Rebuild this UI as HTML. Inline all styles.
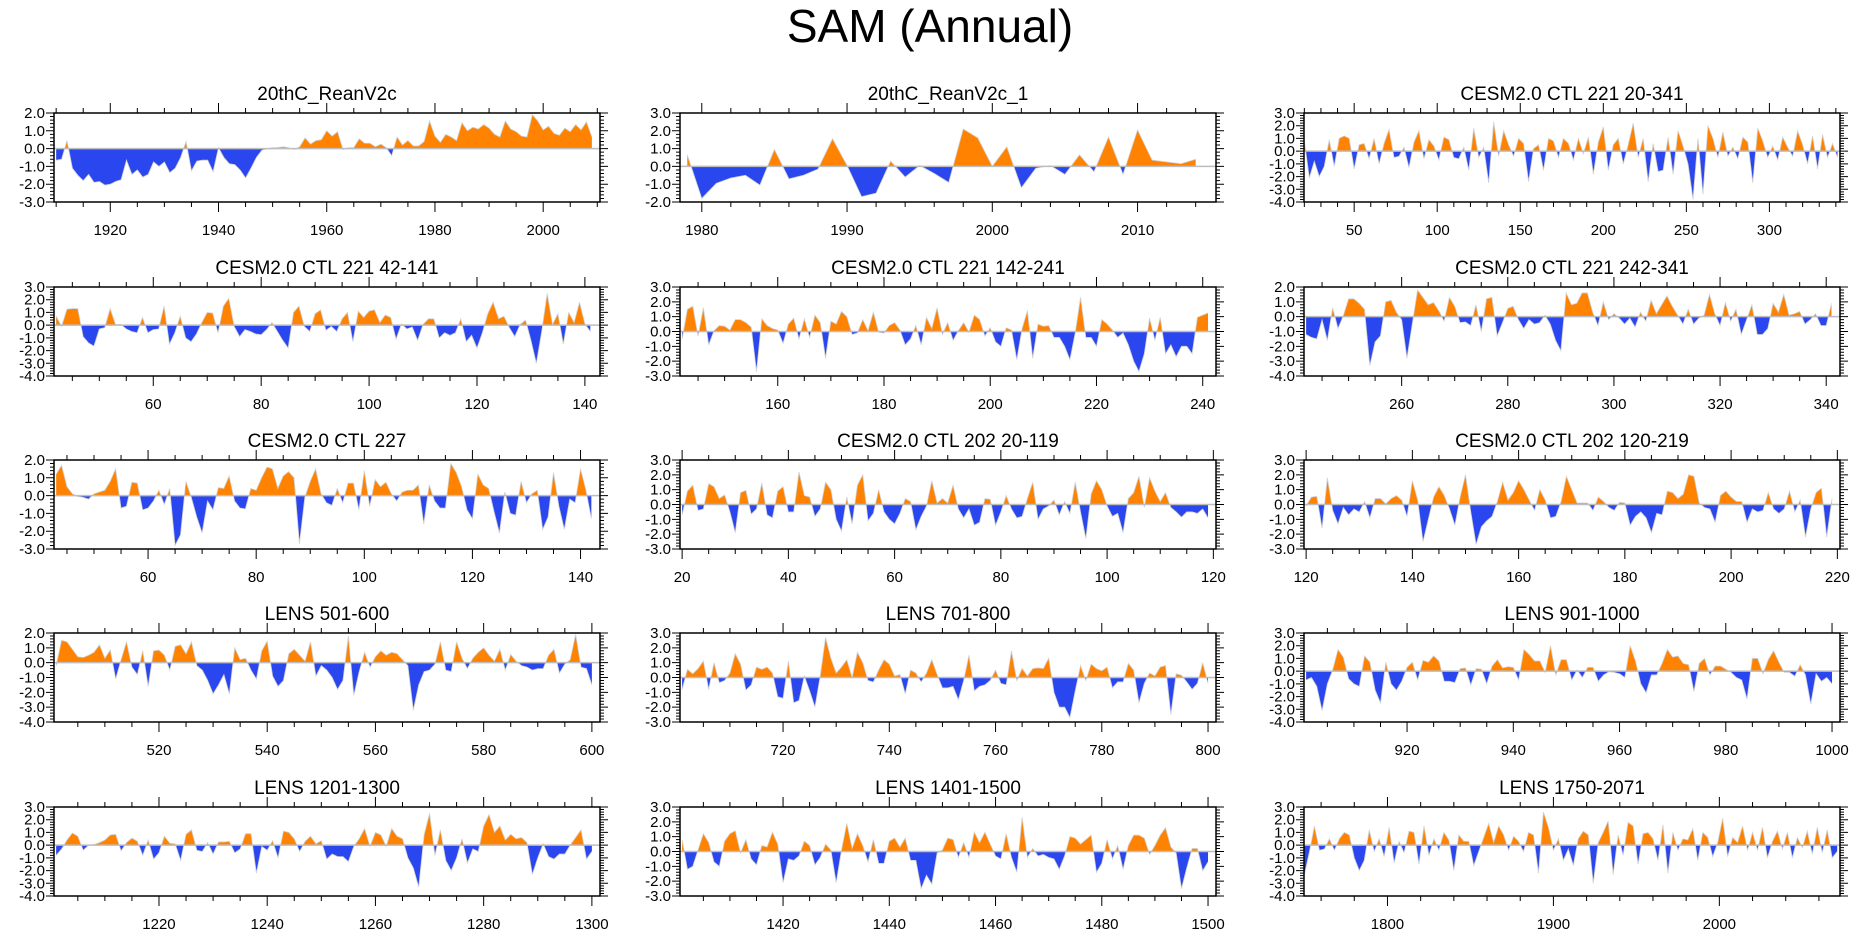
<!DOCTYPE html>
<html>
<head>
<meta charset="utf-8">
<style>
  html,body{margin:0;padding:0;background:#fff;}
  svg{display:block;font-family:"Liberation Sans",Arial,sans-serif;}
</style>
</head>
<body>
<svg id="chart" width="1861" height="936" viewBox="0 0 1861 936" xmlns="http://www.w3.org/2000/svg">
  <rect x="0" y="0" width="1861" height="936" fill="#fff"/>
  <text x="930" y="42" text-anchor="middle" font-size="46" fill="#000">SAM (Annual)</text>
</svg>
<script>
// ---------- data ----------
const titles = ["20thC_ReanV2c","20thC_ReanV2c_1","CESM2.0 CTL 221 20-341",
  "CESM2.0 CTL 221 42-141","CESM2.0 CTL 221 142-241","CESM2.0 CTL 221 242-341",
  "CESM2.0 CTL 227","CESM2.0 CTL 202 20-119","CESM2.0 CTL 202 120-219",
  "LENS 501-600","LENS 701-800","LENS 901-1000",
  "LENS 1201-1300","LENS 1401-1500","LENS 1750-2071"];
const startYears = [1910,1979,20, 42,142,242, 43,20,120, 501,701,901, 1201,1401,1750];
const yearSteps = [1,1,3, 1,1,1, 1,1,1, 1,1,1, 1,1,3];
const yMaxs = [2,3,3, 3,3,2, 2,3,3, 2,3,3, 3,3,3];
const yMins = [-3,-2,-4, -4,-3,-4, -3,-3,-3, -4,-3,-4, -4,-3,-4];
const xRangeLo = [1909.6,1978.5,19.8, 41.6,141.6,241.6, 42.6,19.6,119.6, 500.6,700.6,900.6, 1200.6,1400.6,1749.7];
const xRangeHi = [2010.5,2015.4,342.5, 142.8,242.5,342.6, 143.6,120.5,220.5, 601.5,801.5,1001.5, 1301.5,1501.5,2072.7];
const xMajorSteps = [20,10,50, 20,20,20, 20,20,20, 20,20,20, 20,20,100];
const xMinorSteps = [5,2,10, 5,5,5, 5,5,5, 5,5,5, 5,5,20];

const p1 = [-0.65,-0.6,0.45,-1.1,-1.5,-1.8,-1.45,-1.9,-1.85,-2.05,-2.0,-1.85,-1.75,-0.65,-1.45,-1.2,-1.6,-1.45,-0.75,-1.0,-0.75,-1.35,-1.1,-0.5,0.4,-1.25,-0.7,-0.65,-0.65,-1.3,0.05,-0.5,-0.85,-0.9,-1.2,-1.65,-1.1,-0.5,-0.1,0.0,0.05,0.06,0.1,0.05,-0.05,0.1,0.6,0.25,0.45,0.5,1.0,0.7,0.95,-0.05,0.05,0.05,0.55,0.3,0.3,0.1,0.25,0.05,-0.4,0.65,0.2,0.45,0.15,0.15,0.4,1.55,0.7,0.35,0.8,0.65,0.45,1.45,1.0,1.2,1.1,1.35,1.15,0.8,0.65,1.55,1.1,0.95,0.7,0.65,1.9,1.55,1.05,1.25,0.85,0.75,1.15,0.95,1.35,1.05,1.5,0.65];
const p2 = [0.65,-1.8,-0.95,-0.65,-0.5,-1.05,0.95,-0.7,-0.5,-0.15,1.55,0.05,-1.7,-1.5,0.3,-0.6,0.05,-0.4,-0.9,2.1,1.6,0.0,1.1,-1.2,-0.1,0.05,-0.45,0.65,-0.3,1.65,-0.45,2.05,0.35,0.25,0.15,0.4];
const p3 = [0.8,-2.1,-0.8,-2.0,-1.2,0.9,-1.2,1.0,1.2,1.0,-1.4,0.5,0.6,-0.6,1.0,-1.0,0.6,1.7,-0.5,-0.4,0.3,-1.3,0.7,1.6,-0.6,0.9,0.4,-0.7,1.1,0.9,-0.5,-0.6,0.3,-1.5,1.8,-0.5,0.3,-2.5,2.3,-0.4,1.6,0.5,-0.4,1.0,0.6,-2.4,0.2,0.5,-1.5,1.0,0.8,-0.5,1.0,0.6,-0.7,1.0,-0.2,1.1,-1.8,0.7,1.9,-1.5,0.5,1.0,-1.0,0.5,2.2,-0.5,1.0,-2.4,0.6,-1.6,-1.5,1.1,-1.8,1.6,0.4,-1.0,-3.8,1.0,-3.4,2.0,1.0,-0.5,1.5,-0.4,0.3,-0.6,1.1,0.7,-2.5,1.8,0.8,-0.5,0.4,-0.7,1.1,0.3,-0.4,1.6,0.5,-1.0,1.2,-1.4,1.3,-0.5,0.6,-0.5];
const p4 = [0.7,-0.1,1.25,1.3,1.3,-0.9,-1.4,-1.65,-0.3,-0.2,1.3,0.05,0.05,-0.3,-0.5,-0.6,0.6,-0.6,-0.35,-0.3,1.5,-1.5,-0.6,0.7,-1.0,-1.3,-0.7,0.2,1.0,0.95,-0.6,1.5,2.1,-0.1,-0.9,-0.35,-0.5,-0.7,-0.75,-0.35,0.2,-0.5,-1.2,-1.8,1.0,1.5,-0.1,-0.5,0.9,1.2,-0.4,-0.1,-0.5,0.5,1.0,-1.3,1.1,0.6,1.1,1.2,0.2,0.8,0.6,-1.1,0.1,-0.3,-0.15,-1.2,0.05,0.5,0.5,-1.0,-0.6,-0.8,-0.6,0.5,-1.3,-0.8,-1.8,-0.6,0.9,1.8,0.5,0.7,-0.2,-0.9,0.05,0.4,-1.2,-3.0,-0.5,2.5,0.05,0.9,-1.5,1.0,0.2,1.8,0.1,-0.5];
const p5 = [-0.5,1.5,1.7,-0.3,1.6,-0.9,0.05,0.4,0.35,0.1,0.8,0.8,0.6,0.3,-2.7,0.85,0.4,0.2,0.1,-0.8,0.5,0.9,-0.5,0.85,-0.4,1.1,0.6,-1.8,0.7,0.5,1.35,1.0,-0.2,-0.1,0.8,0.05,1.3,-0.05,-0.1,0.4,0.6,0.1,-0.9,-0.5,0.4,-0.9,0.95,0.2,1.6,-0.2,0.6,-0.6,0.05,0.6,-0.05,1.1,0.8,-0.3,0.25,-0.7,-1.0,0.25,0.1,-1.9,0.2,1.4,-1.8,0.5,0.35,0.4,-0.4,-0.4,-1.0,-1.9,-0.1,2.3,-0.4,-0.4,-1.0,0.8,0.5,0.1,-0.4,-0.1,-0.9,-2.0,-2.7,-1.5,0.9,-0.6,0.95,-1.5,-0.9,-1.7,-1.0,-1.0,-1.5,0.95,1.1,1.25];
const p6 = [-1.2,-1.4,-1.5,-0.2,-1.6,0.6,-0.8,0.05,1.2,1.2,0.9,0.5,-3.3,-1.7,-1.3,1.0,1.1,0.3,-0.2,-2.8,-0.5,1.8,1.3,0.8,0.95,0.4,-0.3,1.3,0.7,-0.4,-0.35,-0.6,0.8,-1.0,1.2,1.3,-1.3,-0.4,0.55,0.7,-0.2,-0.8,-0.2,-0.5,-0.4,0.1,-0.5,-1.6,-2.3,1.6,0.8,0.9,1.6,1.6,0.3,-0.6,1.0,-0.2,0.2,-0.1,-0.5,-0.1,-0.7,0.3,-0.3,1.1,0.2,0.8,1.4,0.7,0.1,-0.5,0.5,-0.5,-0.1,0.1,1.5,0.2,-0.6,0.95,-0.3,0.5,-1.2,-0.2,0.8,-1.2,-1.2,-0.8,0.9,0.3,1.5,0.1,0.2,0.35,-0.5,-0.2,0.2,-0.6,-0.6,0.9];
const p7 = [1.2,1.7,0.5,0.1,-0.05,-0.1,-0.2,0.1,0.2,0.3,0.8,1.5,-0.7,-0.6,0.75,0.7,-0.8,-0.7,-0.3,0.3,-0.5,0.4,-2.8,-2.2,0.8,-0.1,-1.2,-2.1,-0.3,-0.8,0.45,0.4,1.1,-0.3,-0.7,-0.75,0.4,0.3,1.0,1.6,1.5,0.4,1.1,1.35,1.0,-2.7,-0.1,0.8,1.5,0.1,-0.4,-0.55,0.4,-0.4,0.7,0.7,-0.8,1.4,-0.6,0.9,0.5,0.75,0.1,-0.3,0.2,0.3,0.3,0.6,-1.6,0.6,-0.3,-0.7,-0.7,1.8,1.3,0.5,-0.8,-1.3,1.2,0.6,0.4,-0.9,-2.1,0.2,-1.0,-1.1,0.8,-0.4,0.1,0.3,-1.9,-1.2,1.3,-0.6,-1.9,-0.2,-0.4,1.5,0.3,-1.3];
const p8 = [-0.7,0.9,1.3,-0.4,-0.3,1.4,1.2,0.4,0.65,-0.5,-1.9,0.8,0.95,-0.65,-0.3,1.45,-0.7,-0.9,0.9,1.2,-0.5,-0.5,2.2,0.6,0.5,-0.8,-0.3,1.5,1.0,-1.0,-1.8,0.5,-1.3,1.3,2.0,-1.1,-0.6,1.0,-0.5,-1.0,-1.3,-0.6,0.4,0.2,-1.7,-0.8,-0.1,1.6,0.1,0.4,0.1,1.3,-0.3,-0.9,-0.3,-1.4,-1.2,0.4,0.35,-1.4,-0.5,0.6,-0.3,-0.9,-0.8,0.4,1.5,-1.0,-0.3,-0.1,0.3,-0.7,0.2,-0.6,1.5,-0.5,-2.3,0.7,1.6,1.0,-0.1,-0.8,-0.6,-1.9,0.4,0.8,1.9,-0.2,1.8,0.9,0.2,0.8,-0.2,-0.5,-0.85,-0.5,-0.5,-0.6,-0.3,-0.9];
const p9 = [-0.1,0.5,0.55,-1.6,1.8,-0.4,-1.3,-0.2,-0.7,-0.3,-0.5,0.2,-0.9,0.4,0.4,0.05,0.4,0.6,0.3,-0.8,1.6,0.3,-2.5,-1.0,0.5,1.2,0.6,-0.3,-1.4,0.5,2.0,-0.5,-2.7,-1.5,-1.1,-0.8,0.2,1.5,0.3,0.8,1.6,1.0,0.3,-0.4,1.0,0.3,-0.9,-0.8,0.2,1.9,1.0,0.1,0.1,0.1,-0.4,0.5,0.2,-0.2,-0.4,0.15,0.1,-1.4,-0.8,-0.5,-0.9,-1.9,-0.6,-0.7,0.9,0.8,0.4,0.7,2.0,1.9,0.1,-0.2,-0.3,-1.2,0.6,0.9,0.5,0.2,0.2,-1.2,-0.3,-0.5,-0.4,0.8,-0.3,-0.6,-0.3,0.9,-0.5,0.3,-2.2,-0.3,0.8,1.1,-2.2,0.4];
const p10 = [-0.2,1.5,1.4,0.9,0.4,0.35,0.5,0.7,1.2,0.3,0.85,-1.1,0.2,1.4,-0.3,-0.8,0.8,-1.6,0.8,0.85,0.5,-0.5,1.1,1.2,0.6,1.4,-0.2,-0.5,-1.2,-2.1,-1.5,-0.8,-2.1,1.0,0.2,0.3,-0.5,-1.1,0.8,1.45,-0.9,-1.6,-1.2,0.6,0.9,0.5,0.1,1.4,-0.9,-0.2,-0.5,-1.0,-1.8,-1.2,1.8,-2.2,-0.6,0.7,-0.3,0.4,0.8,0.5,0.7,0.6,0.2,-0.2,-3.2,-1.5,-0.6,-0.5,-0.1,1.4,-0.5,-0.6,1.4,0.3,-0.4,0.3,0.7,1.0,0.5,0.1,0.9,-0.5,0.55,0.1,-0.2,-0.3,-0.5,-0.4,-0.4,0.5,0.9,-0.7,-0.1,0.2,1.9,-0.3,-0.4,-1.5];
const p11 = [-0.8,0.55,0.25,0.6,1.1,-0.8,1.0,-0.35,-0.2,0.3,1.6,0.9,-0.85,-0.5,0.7,0.55,0.7,0.3,-1.3,-1.4,1.1,-1.7,-1.55,0.1,-0.9,-2.0,0.1,2.7,1.3,0.3,0.7,1.2,0.0,1.7,1.0,-0.2,-0.3,0.5,1.2,0.9,0.1,0.2,-1.1,0.5,0.3,-0.3,0.3,1.2,0.2,-0.7,-0.7,-0.6,-1.5,-0.2,1.5,-0.9,-0.6,-0.5,-0.2,0.5,-0.4,-0.5,1.8,-0.2,0.6,0.1,0.6,0.65,0.6,1.3,-1.0,-2.0,-2.0,-2.7,-0.9,0.8,-0.2,0.9,0.6,0.45,0.7,-0.7,-0.3,-0.3,0.95,0.5,-1.7,-0.4,0.3,0.1,0.7,0.8,-2.5,0.25,0.15,-0.3,-0.8,-0.4,1.0,-0.4];
const p12 = [-0.7,-0.5,-1.2,-3.1,-1.0,0.1,1.7,1.1,-0.6,-1.0,-1.2,1.2,0.7,-1.5,-2.5,0.7,-1.0,-1.5,-0.8,0.3,0.7,-0.7,0.85,0.7,1.2,0.8,-0.8,-0.8,-0.9,0.2,0.25,-1.1,0.2,0.15,-1.0,0.4,0.9,0.25,0.35,0.3,-0.7,1.7,1.3,0.8,0.8,-0.1,2.0,-0.3,0.9,0.9,-0.7,0.1,-0.5,0.3,0.3,-0.8,-0.3,-0.05,-0.1,-0.2,-0.5,2.0,0.8,-1.0,-1.7,-0.3,-0.3,0.6,1.7,1.1,1.2,0.6,0.5,-1.6,0.6,1.0,-0.3,0.4,0.4,0.15,-0.1,-0.5,-0.7,-2.2,1.0,1.0,-0.2,0.9,1.6,0.7,-0.1,-0.1,-0.4,0.5,-0.3,-2.6,-0.2,-0.8,-0.5,-1.0];
const p13 = [-0.8,-0.3,0.4,0.95,0.7,-0.4,0.0,0.05,0.2,0.4,0.8,0.85,-0.45,0.2,0.55,0.3,-0.8,0.4,-1.1,-0.6,0.7,0.15,0.1,-1.2,0.85,1.2,-0.4,-0.5,0.2,-0.7,0.25,0.25,0.3,-0.6,-0.3,0.9,0.9,-2.2,-0.1,-0.4,0.35,-1.0,1.1,1.0,0.5,-0.5,0.3,0.7,0.1,0.35,-1.1,-0.7,-0.9,-0.9,-1.3,-0.1,0.5,1.3,-0.1,1.0,0.8,-0.1,1.3,0.7,0.5,-1.0,-1.8,-3.3,0.8,2.5,-0.8,1.2,-1.2,-2.0,-1.0,0.5,-1.4,-0.3,-0.5,1.5,2.4,1.0,1.5,0.4,0.85,0.5,0.6,0.2,-2.3,-1.0,0.1,-0.9,-1.1,-0.7,-0.7,0.0,0.6,1.2,-1.1,-0.5];
const p14 = [0.8,-1.2,-1.0,0.1,1.2,0.6,-0.7,-1.0,0.7,1.2,1.4,-0.1,0.8,-0.5,-0.9,0.4,0.3,1.3,0.5,-2.1,-0.5,-0.6,-0.3,0.7,0.4,-0.9,-0.4,0.5,0.1,-2.1,0.1,1.9,0.2,1.2,0.4,-0.7,0.8,-0.8,-0.8,0.7,0.9,0.3,0.9,-0.6,-0.6,-2.5,-1.6,-2.2,-0.1,0.1,0.9,0.8,-0.4,0.6,-0.4,1.3,0.6,1.3,0.5,-0.3,-0.5,1.2,-0.4,-1.4,2.3,-0.4,0.2,-0.3,-0.2,-0.4,-0.5,-1.2,-0.3,1.0,0.9,0.5,0.8,1.1,-1.4,-0.8,0.8,-0.5,0.4,-1.2,0.4,1.1,1.1,0.9,-0.2,0.4,1.1,1.6,0.3,-0.1,-2.5,-1.1,0.2,0.2,-1.3,-0.7];
const p15 = [-2.3,-0.5,1.5,-0.4,-0.3,0.5,-0.4,0.5,1.0,0.8,-1.0,-2.0,-1.2,1.2,-0.5,0.5,-0.9,1.4,-1.4,0.3,-0.6,1.1,1.0,-1.5,1.5,-0.8,0.5,-0.4,1.0,0.4,-2.0,0.8,0.3,0.3,-1.6,-0.5,0.6,1.7,0.2,1.5,0.8,-0.4,0.7,0.3,-0.5,1.0,0.8,-2.2,2.6,1.4,-0.4,0.5,-1.2,-0.3,-1.6,0.5,1.1,0.8,-3.0,0.2,1.0,1.9,-2.3,0.8,-0.8,1.8,1.5,-1.5,0.9,1.0,0.5,-1.2,1.6,-2.2,1.0,-0.4,0.5,0.4,1.3,-1.2,1.0,0.6,-0.9,0.2,2.1,-0.9,0.6,0.2,1.5,-0.4,1.0,-0.4,1.4,-1.0,0.3,1.1,-0.3,1.0,-1.0,0.6,-0.2,1.1,-0.7,1.4,-0.6,1.2,-1.0,-0.5];
const series = [p1,p2,p3,p4,p5,p6,p7,p8,p9,p10,p11,p12,p13,p14,p15];

// ---------- layout ----------
const NS = "http://www.w3.org/2000/svg";
const svg = document.getElementById("chart");
const colLeft = [54, 680, 1304];
const colWidth = [546, 536, 536];
const rowTop = [113, 287, 460, 633, 807];
const PH = 89;
const ORANGE = "#ff8200", BLUE = "#2a46ee";

function mk(tag, parent) { const e = document.createElementNS(NS, tag); parent.appendChild(e); return e; }
function fmt(v) { return v.toFixed(1); }

const defs = mk("defs", svg);

for (let i = 0; i < 15; i++) {
  const L = colLeft[i % 3], PW = colWidth[i % 3], T = rowTop[Math.floor(i / 3)];
  const vals = series[i], x0 = startYears[i], st = yearSteps[i];
  const lo = xRangeLo[i], hi = xRangeHi[i], yMax = yMaxs[i], yMin = yMins[i];
  const xs = v => L + (v - lo) / (hi - lo) * PW;
  const ys = v => T + (yMax - v) / (yMax - yMin) * PH;
  const y0 = ys(0);

  const g = mk("g", svg);
  
  

  const cA = mk("clipPath", defs); cA.setAttribute("id", "ca" + i);
  const rA = mk("rect", cA); rA.setAttribute("x", L); rA.setAttribute("y", T); rA.setAttribute("width", PW); rA.setAttribute("height", y0 - T);
  const cB = mk("clipPath", defs); cB.setAttribute("id", "cb" + i);
  const rB = mk("rect", cB); rB.setAttribute("x", L); rB.setAttribute("y", y0); rB.setAttribute("width", PW); rB.setAttribute("height", T + PH - y0);

  let d = "M" + xs(x0).toFixed(2) + "," + y0.toFixed(2);
  let line = "";
  vals.forEach((v, k) => {
    const px = xs(x0 + k * st).toFixed(2), py = ys(v).toFixed(2);
    d += " L" + px + "," + py;
    line += px + "," + py + " ";
  });
  d += " L" + xs(x0 + (vals.length - 1) * st).toFixed(2) + "," + y0.toFixed(2) + " Z";

  const pos = mk("path", g);
  
  
  pos.setAttribute("d", d); pos.setAttribute("fill", ORANGE); pos.setAttribute("clip-path", "url(#ca" + i + ")");
  const neg = mk("path", g);
  
  
  neg.setAttribute("d", d); neg.setAttribute("fill", BLUE); neg.setAttribute("clip-path", "url(#cb" + i + ")");
  const pl = mk("polyline", g);
  
  
  pl.setAttribute("points", line); pl.setAttribute("fill", "none"); pl.setAttribute("stroke", "#d0d0d0"); pl.setAttribute("stroke-width", "0.8");

  const zl = mk("line", g);
  
  
  zl.setAttribute("x1", L); zl.setAttribute("x2", L + PW); zl.setAttribute("y1", y0); zl.setAttribute("y2", y0);
  zl.setAttribute("stroke", "#bdbdbd"); zl.setAttribute("stroke-width", "1.5");

  let tk = "";
  const xMaj = xMajorSteps[i], xMin = xMinorSteps[i];
  for (let v = Math.ceil(lo / xMin) * xMin; v <= hi; v += xMin) {
    const px = xs(v), major = (v % xMaj === 0), len = major ? 10 : 5;
    tk += "M" + px + "," + (T + PH) + "v" + len + "M" + px + "," + T + "v" + (-len);
  }
  for (let v = yMin; v <= yMax + 1e-6; v = Math.round((v + 0.2) * 10) / 10) {
    const py = ys(v), major = Math.abs(v - Math.round(v)) < 1e-6, len = major ? 8 : 4;
    tk += "M" + L + "," + py + "h" + (-len) + "M" + (L + PW) + "," + py + "h" + len;
  }
  const tp = mk("path", g);
  
  
  tp.setAttribute("d", tk); tp.setAttribute("stroke", "#000"); tp.setAttribute("stroke-width", "1"); tp.setAttribute("fill", "none");

  const br = mk("rect", g);
  
  
  br.setAttribute("x", L); br.setAttribute("y", T); br.setAttribute("width", PW); br.setAttribute("height", PH);
  br.setAttribute("fill", "none"); br.setAttribute("stroke", "#000"); br.setAttribute("stroke-width", "1.5");

  for (let v = Math.ceil(lo / xMaj) * xMaj; v <= hi; v += xMaj) {
    const t = mk("text", g);
    
    
    t.setAttribute("x", xs(v)); t.setAttribute("y", T + PH + 33);
    t.setAttribute("text-anchor", "middle"); t.setAttribute("font-size", "15");
    t.textContent = String(v);
  }
  for (let v = yMin; v <= yMax; v++) {
    const t = mk("text", g);
    
    
    t.setAttribute("x", L - 9); t.setAttribute("y", ys(v) + 5);
    t.setAttribute("text-anchor", "end"); t.setAttribute("font-size", "15");
    t.textContent = fmt(v);
  }
  const tt = mk("text", g);
  
  
  tt.setAttribute("x", L + PW / 2); tt.setAttribute("y", T - 13);
  tt.setAttribute("text-anchor", "middle"); tt.setAttribute("font-size", "19");
  tt.textContent = titles[i];
}
</script>
</body>
</html>
